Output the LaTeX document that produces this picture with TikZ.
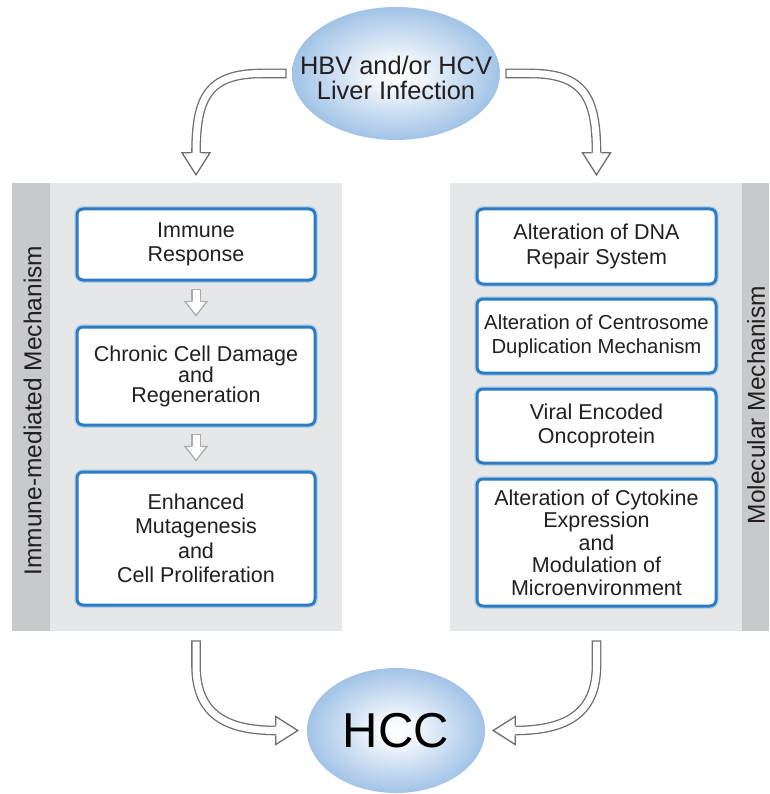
\documentclass[tikz,border=0pt]{standalone}
\usepackage{fontspec}
\setmainfont{Liberation Sans}
\usetikzlibrary{calc,shapes.geometric}
\definecolor{panelgray}{HTML}{E6E7E8}
\definecolor{sidegray}{HTML}{C8C9CB}
\definecolor{boxblue}{HTML}{2B7CC2}
\definecolor{ellblue}{HTML}{5592D3}
\definecolor{arrgray}{HTML}{6E6E6E}
\definecolor{smallgray}{HTML}{ABABAB}
\definecolor{inkgray}{HTML}{231F20}
\pgfdeclareradialshading{ellglow}{\pgfpoint{0bp}{0bp}}{color(0bp)=(white); color(5bp)=(white!94!ellblue); color(28bp)=(ellblue!62!white); color(50bp)=(ellblue); color(100bp)=(ellblue)}
\begin{document}
\begin{tikzpicture}[x=1pt,y=-1pt,line join=miter,font=\fontsize{21.5}{24.5}\selectfont]
    \tikzset{panel/.style={fill=panelgray,draw=none,inner sep=0pt,minimum height=448},
        sidebar/.style={fill=sidegray,draw=none,inner sep=0pt,minimum height=448},
        sidetext/.style={rotate=90,text=inkgray,inner sep=0pt,font=\fontsize{24.5}{26}\selectfont},
        mechbox/.style={draw=boxblue,line width=3pt,rounded corners=6pt,fill=white,
            preaction={draw=boxblue!35,line width=5.5pt},
            inner sep=0pt,align=center,text=inkgray},
        ell/.style={ellipse,shade,shading=ellglow,draw=none,inner sep=0pt},
        elltext/.style={inner sep=0pt,align=center,text=inkgray},
        hollow/.style={draw=arrgray,line width=1.3pt,double=white,double distance=7pt,line cap=rect},
        thinhollow/.style={hollow,draw=smallgray},
        openhead/.pic={\filldraw[fill=white,draw=arrgray,line width=1.3pt]
            (-4.8,-22)--(-14,-22)--(0,0)--(14,-22)--(4.8,-22);},
        smallhead/.pic={\filldraw[fill=white,draw=smallgray,line width=1.3pt]
            (-4.8,-14)--(-11,-14)--(0,0)--(11,-14)--(4.8,-14);}
    }
    \useasboundingbox (0,0) rectangle (769,794);
    % the two panels
    \node[panel,minimum width=330] (lpanel) at (177,407) {};
    \node[sidebar,minimum width=38] (lside) at (31,407) {};
    \node[sidetext] (immlab) at (32.5,410.5) {Immune-mediated Mechanism};
    \node[panel,minimum width=319] (rpanel) at (609.5,407) {};
    \node[sidebar,minimum width=27] (rside) at (755.5,407) {};
    \node[sidetext] (mollab) at (756,405) {Molecular Mechanism};
    % left column
    \node[mechbox,minimum width=238,minimum height=71] (imm) at (196,244.5) {Immune\\Response};
    \node[mechbox,minimum width=238,minimum height=98,font=\fontsize{21.5}{20}\selectfont] (chr) at (196,376) {Chronic Cell Damage\\and\\Regeneration};
    \node[mechbox,minimum width=238,minimum height=133] (enh) at (196,538.5) {Enhanced\\Mutagenesis\\and\\Cell Proliferation};
    % right column
    \node[mechbox,minimum width=239,minimum height=75] (dna) at (596.5,246.5) {Alteration of DNA\\Repair System};
    \node[mechbox,minimum width=239,minimum height=74,font=\fontsize{20.3}{24}\selectfont] (cen) at (596.5,336) {Alteration of Centrosome\\Duplication Mechanism};
    \node[mechbox,minimum width=239,minimum height=74] (vir) at (596.5,426) {Viral Encoded\\Oncoprotein};
    \node[mechbox,minimum width=239,minimum height=127,font=\fontsize{21.5}{22.5}\selectfont] (cyt) at (596.5,542.5) {Alteration of Cytokine\\Expression\\and\\Modulation of\\Microenvironment};
    % ellipses
    \node[ell,minimum width=208,minimum height=133] (inf) at (396,73.5) {};
    \node[elltext,font=\fontsize{25.4}{25}\selectfont] (inftxt) at (396,78) {HBV and/or HCV\\Liver Infection};
    \node[ell,minimum width=178,minimum height=125,text=black,font=\fontsize{49}{50}\selectfont] (hcc) at (396,730.5) {HCC};
    % small arrows in the left column
    \draw[thinhollow] ($(imm.south)+(0,12)$) -- ($(chr.north)+(0,-23)$);
    \pic at ($(chr.north)+(0,-10)$) {smallhead};
    \draw[thinhollow] ($(chr.south)+(0,12)$) -- ($(enh.north)+(0,-23)$);
    \pic at ($(enh.north)+(0,-10)$) {smallhead};
    % infection to panels
    \coordinate (lt) at ($(imm.north |- lpanel.north)+(0,-8)$);
    \coordinate (rt) at ($(dna.north |- rpanel.north)+(0,-8)$);
    \draw[hollow] ($(inf.west)+(-10,0)$) -- ++(-20,0) .. controls +(-55,0) and +(0,-55) .. ($(lt)+(0,-21)$);
    \pic at (lt) {openhead};
    \draw[hollow] ($(inf.east)+(10,0)$) -- ++(20,0) .. controls +(55,0) and +(0,-55) .. ($(rt)+(0,-21)$);
    \pic at (rt) {openhead};
    % panels to HCC
    \draw[hollow] ($(imm.south |- lpanel.south)+(0,14)$) -- ++(0,20) .. controls +(0,50) and +(-50,0) .. ($(hcc.west)+(-30,0)$);
    \pic[rotate=90] at ($(hcc.west)+(-9,0)$) {openhead};
    \draw[hollow] ($(dna.south |- rpanel.south)+(0,14)$) -- ++(0,20) .. controls +(0,50) and +(50,0) .. ($(hcc.east)+(29,0)$);
    \pic[rotate=-90] at ($(hcc.east)+(8,0)$) {openhead};
\end{tikzpicture}
\end{document}
